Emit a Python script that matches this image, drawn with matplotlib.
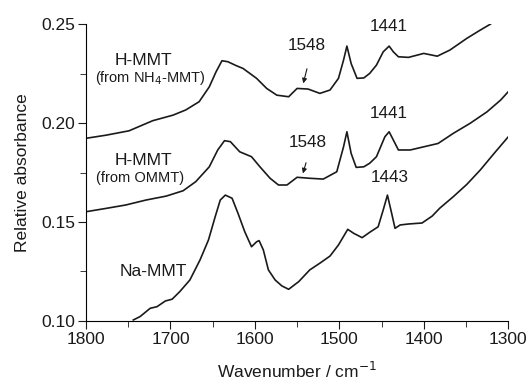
import numpy as np
import matplotlib.pyplot as plt

plt.rcParams['font.family'] = ['Liberation Sans', 'DejaVu Sans']

# H-MMT (from NH4-MMT)
wn_nh4 = [1800, 1776, 1749, 1721, 1697, 1682, 1666, 1654, 1646, 1639, 1632, 1622, 1614, 1598,
          1586, 1574, 1560, 1550, 1537, 1523, 1511, 1501, 1495, 1491, 1486, 1479, 1471, 1464,
          1456, 1448, 1441, 1436, 1430, 1418, 1400, 1384, 1369, 1349, 1333, 1321]
ab_nh4 = [0.1923, 0.1939, 0.1961, 0.2012, 0.2040, 0.2066, 0.2108, 0.2183, 0.2259, 0.2315,
          0.2310, 0.2290, 0.2276, 0.2226, 0.2175, 0.2141, 0.2133, 0.2175, 0.2172, 0.2150,
          0.2167, 0.2226, 0.2318, 0.2389, 0.2301, 0.2226, 0.2228, 0.2251, 0.2293, 0.2360,
          0.2389, 0.2360, 0.2335, 0.2332, 0.2352, 0.2338, 0.2369, 0.2428, 0.2470, 0.2500]

# H-MMT (from OMMT)
wn_ommt = [1800, 1776, 1753, 1729, 1705, 1685, 1670, 1654, 1644, 1636, 1629, 1618, 1604, 1594,
           1582, 1572, 1562, 1550, 1535, 1519, 1503, 1495, 1491, 1486, 1480, 1471, 1464, 1456,
           1446, 1441, 1435, 1430, 1416, 1400, 1383, 1365, 1345, 1325, 1309, 1300]
ab_ommt = [0.1552, 0.1569, 0.1586, 0.1611, 0.1631, 0.1658, 0.1704, 0.1779, 0.1864, 0.1911,
           0.1906, 0.1855, 0.1830, 0.1779, 0.1721, 0.1687, 0.1687, 0.1726, 0.1721, 0.1717,
           0.1754, 0.1880, 0.1956, 0.1847, 0.1776, 0.1779, 0.1797, 0.1830, 0.1931, 0.1956,
           0.1906, 0.1864, 0.1864, 0.1880, 0.1897, 0.1948, 0.1999, 0.2057, 0.2116, 0.2158]

# Na-MMT
wn_na = [1744, 1736, 1724, 1716, 1706, 1698, 1689, 1677, 1665, 1655, 1647, 1641, 1635, 1627,
         1620, 1612, 1604, 1598, 1595, 1590, 1584, 1576, 1568, 1560, 1548, 1535, 1523, 1511,
         1501, 1490, 1483, 1473, 1464, 1454, 1448, 1443, 1438, 1434, 1428, 1418, 1402, 1390,
         1381, 1365, 1349, 1333, 1317, 1300]
ab_na = [0.1005, 0.1022, 0.1064, 0.1072, 0.1101, 0.1110, 0.1148, 0.1207, 0.1308, 0.1409,
         0.1527, 0.1611, 0.1636, 0.1620, 0.1544, 0.1451, 0.1375, 0.1400, 0.1406, 0.1359,
         0.1258, 0.1207, 0.1177, 0.1160, 0.1199, 0.1258, 0.1292, 0.1328, 0.1384, 0.1463,
         0.1443, 0.1421, 0.1448, 0.1476, 0.1561, 0.1636, 0.1544, 0.1468, 0.1485, 0.1490,
         0.1495, 0.1530, 0.1570, 0.1628, 0.1690, 0.1763, 0.1845, 0.1930]

fig = plt.figure(figsize=(5.31, 3.83), dpi=100)
ax = fig.add_axes([0.162, 0.162, 0.795, 0.775])

lc = '#1a1a1a'
ax.plot(wn_nh4, ab_nh4, color=lc, lw=1.2)
ax.plot(wn_ommt, ab_ommt, color=lc, lw=1.2)
ax.plot(wn_na, ab_na, color=lc, lw=1.2)

ax.set_xlim(1800, 1300)
ax.set_ylim(0.10, 0.25)
ax.set_xticks([1800, 1700, 1600, 1500, 1400, 1300])
ax.set_xticks([1750, 1650, 1550, 1450, 1350], minor=True)
ax.set_yticks([0.10, 0.15, 0.20, 0.25])
ax.set_yticklabels(['0.10', '0.15', '0.20', '0.25'])
ax.set_yticks([0.125, 0.175, 0.225], minor=True)
ax.spines['top'].set_visible(False)
ax.spines['right'].set_visible(False)
ax.tick_params(which='both', direction='out', labelsize=12.5, colors=lc, pad=2)
ax.tick_params(which='major', length=6)
ax.tick_params(which='minor', length=4)
ax.set_xlabel('Wavenumber / cm$^{-1}$', fontsize=12.5, color=lc, labelpad=10)
ax.set_ylabel('Relative absorbance', fontsize=12.5, color=lc, labelpad=8)

ax.text(1732, 0.2318, 'H-MMT', ha='center', va='center', fontsize=12.5, color=lc)
ax.text(1724, 0.2227, '(from NH$_4$-MMT)', ha='center', va='center', fontsize=10.5, color=lc)
ax.text(1732, 0.1813, 'H-MMT', ha='center', va='center', fontsize=12.5, color=lc)
ax.text(1736, 0.1722, '(from OMMT)', ha='center', va='center', fontsize=10.5, color=lc)
ax.text(1720, 0.1248, 'Na-MMT', ha='center', va='center', fontsize=12.5, color=lc)

ax.text(1539, 0.2394, '1548', ha='center', va='center', fontsize=12.3, color=lc)
ax.text(1442, 0.2490, '1441', ha='center', va='center', fontsize=12.3, color=lc, clip_on=False)
ax.text(1537, 0.1900, '1548', ha='center', va='center', fontsize=12.3, color=lc)
ax.text(1442, 0.2050, '1441', ha='center', va='center', fontsize=12.3, color=lc)
ax.text(1440, 0.1727, '1443', ha='center', va='center', fontsize=12.3, color=lc)

ax.annotate('', xy=(1543.5, 0.2187), xytext=(1537.5, 0.2288),
            arrowprops=dict(arrowstyle='-|>', color=lc, lw=0.8, mutation_scale=7))
ax.annotate('', xy=(1544, 0.1732), xytext=(1538.5, 0.1813),
            arrowprops=dict(arrowstyle='-|>', color=lc, lw=0.8, mutation_scale=7))

fig.savefig('out.png', dpi=100)
